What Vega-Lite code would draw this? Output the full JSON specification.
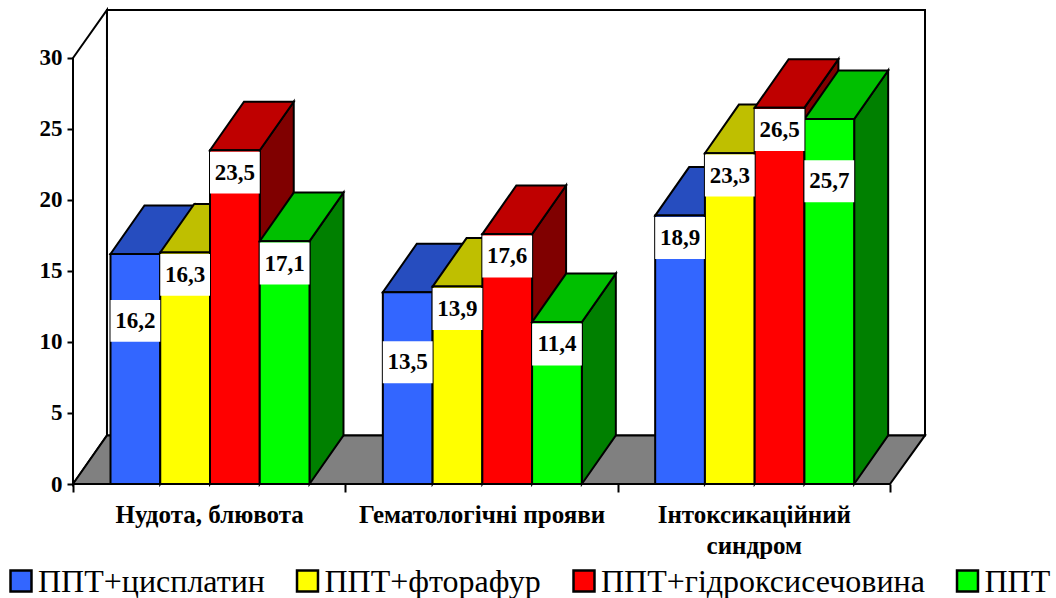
{
"$schema":"https://vega.github.io/schema/vega-lite/v6.json",
"width":852,"height":474,
"autosize":{"type":"none"},
"padding":{"left":73,"top":10,"right":131,"bottom":114},
"background":"white",
"config":{"view":{"stroke":null},"font":"Liberation Serif"},
"datasets":{
"bars":[
{"category":"Нудота, блювота","series":"ППТ+цисплатин","value":16.2},
{"category":"Нудота, блювота","series":"ППТ+фторафур","value":16.3},
{"category":"Нудота, блювота","series":"ППТ+гідроксисечовина","value":23.5},
{"category":"Нудота, блювота","series":"ППТ","value":17.1},
{"category":"Гематологічні прояви","series":"ППТ+цисплатин","value":13.5},
{"category":"Гематологічні прояви","series":"ППТ+фторафур","value":13.9},
{"category":"Гематологічні прояви","series":"ППТ+гідроксисечовина","value":17.6},
{"category":"Гематологічні прояви","series":"ППТ","value":11.4},
{"category":"Інтоксикаційний синдром","series":"ППТ+цисплатин","value":18.9},
{"category":"Інтоксикаційний синдром","series":"ППТ+фторафур","value":23.3},
{"category":"Інтоксикаційний синдром","series":"ППТ+гідроксисечовина","value":26.5},
{"category":"Інтоксикаційний синдром","series":"ППТ","value":25.7}
],
"frame":[
{"face":"стіна","id":"left","x":0,"lo":0,"hi":30},
{"face":"стіна","id":"left","x":0.1248,"lo":3.42,"hi":33.38},
{"face":"стіна","id":"back","x":0.1248,"lo":3.42,"hi":33.38},
{"face":"стіна","id":"back","x":3.1285,"lo":3.42,"hi":33.38},
{"face":"підлога","id":"floor","x":0,"lo":0,"hi":0},
{"face":"підлога","id":"floor","x":0.1248,"lo":0,"hi":3.42},
{"face":"підлога","id":"floor","x":3.0,"lo":0,"hi":3.42},
{"face":"підлога","id":"floor","x":3.1285,"lo":3.42,"hi":3.42}
]
},
"resolve":{"scale":{"color":"shared"}},
"encoding":{
"x":{"type":"quantitative","scale":{"domain":[0,3.1285],"nice":false,"zero":false}},
"y":{"type":"quantitative","scale":{"domain":[0,33.38],"nice":false}}
},
"layer":[
{
"data":{"name":"frame"},
"mark":{"type":"area","stroke":"black","strokeWidth":2,"opacity":1},
"encoding":{
"x":{"field":"x","type":"quantitative","scale":{"domain":[0,3.1285],"nice":false,"zero":false},
"axis":{"values":[0,0.5,1,1.5,2,2.5,3],"title":null,"domain":false,"grid":false,"tickColor":"black","tickWidth":2,"tickSize":8,
"tickOpacity":{"condition":{"test":"datum.value % 1 != 0","value":0},"value":1},
"labelExpr":"datum.value==0.5?'Нудота, блювота':datum.value==1.5?'Гематологічні прояви':datum.value==2.5?['Інтоксикаційний','синдром']:''",
"labelFont":"Liberation Serif","labelFontWeight":"bold","labelFontSize":25,"labelColor":"black","labelPadding":10,"labelOverlap":false,"labelBound":false,"labelFlush":false,"labelLineHeight":31,"labelAngle":0,"labelLimit":400}},
"y":{"field":"lo","type":"quantitative","scale":{"domain":[0,33.38],"nice":false},
"axis":{"values":[0,5,10,15,20,25,30],"title":null,"domain":false,"grid":false,"tickColor":"black","tickWidth":2,"tickSize":6,
"labelFont":"Liberation Serif","labelFontWeight":"bold","labelFontSize":23,"labelColor":"black","labelPadding":5,"labelOverlap":false,"labelBound":false,"labelFlush":false}},
"y2":{"field":"hi"},
"detail":{"field":"id"},
"color":{"field":"face","type":"nominal"}
}
},
{
"data":{"name":"bars"},
"transform":[
{"calculate":"indexof(['Нудота, блювота','Гематологічні прояви','Інтоксикаційний синдром'],datum.category)","as":"g"},
{"calculate":"indexof(['ППТ+цисплатин','ППТ+фторафур','ППТ+гідроксисечовина','ППТ'],datum.series)","as":"s"},
{"calculate":"datum.g+(37.5+datum.s*49.75)/272.33","as":"x0"},
{"calculate":"datum.x0+49.75/272.33","as":"x1"},
{"calculate":"[{f:' бік',x:datum.x1,lo:0,hi:datum.value},{f:' бік',x:datum.x1+0.1248,lo:3.42,hi:datum.value+3.42},{f:' верх',x:datum.x0,lo:datum.value,hi:datum.value},{f:' верх',x:datum.x0+0.1248,lo:datum.value,hi:datum.value+3.42},{f:' верх',x:datum.x1,lo:datum.value,hi:datum.value+3.42},{f:' верх',x:datum.x1+0.1248,lo:datum.value+3.42,hi:datum.value+3.42},{f:'',x:datum.x0,lo:0,hi:datum.value},{f:'',x:datum.x1,lo:0,hi:datum.value}]","as":"pt"},
{"flatten":["pt"]},
{"calculate":"datum.series+datum.pt.f","as":"face"},
{"calculate":"datum.category+datum.face","as":"id"},
{"calculate":"datum.pt.x","as":"px"},
{"calculate":"datum.pt.lo","as":"lo"},
{"calculate":"datum.pt.hi","as":"hi"}
],
"mark":{"type":"area","stroke":"black","strokeWidth":2,"opacity":1},
"encoding":{
"x":{"field":"px","type":"quantitative"},
"y":{"field":"lo","type":"quantitative"},
"y2":{"field":"hi"},
"detail":{"field":"id"},
"color":{"field":"face","type":"nominal",
"scale":{"domain":["ППТ+цисплатин","ППТ+фторафур","ППТ+гідроксисечовина","ППТ","ППТ+цисплатин верх","ППТ+фторафур верх","ППТ+гідроксисечовина верх","ППТ верх","ППТ+цисплатин бік","ППТ+фторафур бік","ППТ+гідроксисечовина бік","ППТ бік","стіна","підлога"],
"range":["#3366ff","#ffff00","#ff0000","#00ff00","#264dbf","#bfbf00","#bf0000","#00bf00","#1a3380","#808000","#800000","#008000","#ffffff","#808080"]},
"legend":{"values":["ППТ+цисплатин","ППТ+фторафур","ППТ+гідроксисечовина","ППТ"],"title":null,"orient":"none","legendX":-68,"legendY":555,"direction":"horizontal","columns":4,"symbolType":"square","symbolSize":440,"symbolStrokeColor":"black","symbolStrokeWidth":2.5,"symbolOpacity":1,"labelFont":"Liberation Serif","labelFontSize":32,"labelColor":"black","labelLimit":500,"labelOffset":1,"columnPadding":26.5,"padding":0,"encode":{"labels":{"update":{"dy":{"value":1}}}}}}
}
},
{
"data":{"name":"bars"},
"transform":[
{"calculate":"indexof(['Нудота, блювота','Гематологічні прояви','Інтоксикаційний синдром'],datum.category)","as":"g"},
{"calculate":"indexof(['ППТ+цисплатин','ППТ+фторафур','ППТ+гідроксисечовина','ППТ'],datum.series)","as":"s"},
{"calculate":"datum.g+(37.5+datum.s*49.75)/272.33","as":"x0"},
{"calculate":"datum.x0+49.75/272.33","as":"x1"},
{"calculate":"datum.value-(datum.value==16.2?3.24:datum.value==13.5?3.45:datum.value==25.7?2.9:0.1)","as":"boxTop"},
{"calculate":"datum.boxTop-2.95","as":"boxBottom"}
],
"mark":{"type":"rect","fill":"white","stroke":null},
"encoding":{
"x":{"field":"x0","type":"quantitative"},
"x2":{"field":"x1"},
"y":{"field":"boxTop","type":"quantitative"},
"y2":{"field":"boxBottom"}
}
},
{
"data":{"name":"bars"},
"transform":[
{"calculate":"indexof(['Нудота, блювота','Гематологічні прояви','Інтоксикаційний синдром'],datum.category)","as":"g"},
{"calculate":"indexof(['ППТ+цисплатин','ППТ+фторафур','ППТ+гідроксисечовина','ППТ'],datum.series)","as":"s"},
{"calculate":"datum.g+(37.5+(datum.s+0.5)*49.75)/272.33","as":"xc"},
{"calculate":"datum.value-(datum.value==16.2?3.24:datum.value==13.5?3.45:datum.value==25.7?2.9:0.1)-1.475","as":"labelY"},
{"calculate":"replace(format(datum.value,'.1f'),'.',',')","as":"label"}
],
"mark":{"type":"text","font":"Liberation Serif","fontWeight":"bold","fontSize":23,"color":"black","baseline":"middle","align":"center"},
"encoding":{
"x":{"field":"xc","type":"quantitative"},
"y":{"field":"labelY","type":"quantitative"},
"text":{"field":"label","type":"nominal"}
}
}
]
}
